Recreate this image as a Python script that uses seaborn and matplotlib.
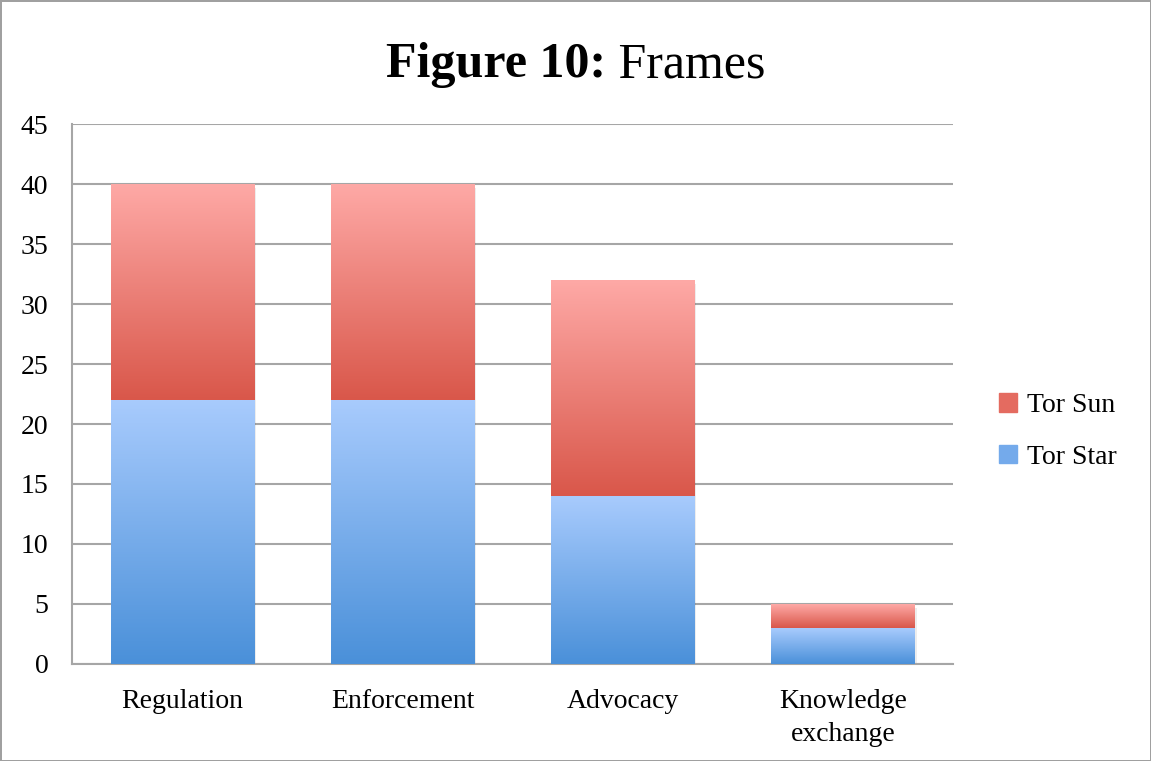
import matplotlib
matplotlib.use("Agg")
import matplotlib.pyplot as plt
import matplotlib.patches as mpatches
from matplotlib.colors import LinearSegmentedColormap
import seaborn as sns
import pandas as pd
import numpy as np

categories = ["Regulation", "Enforcement", "Advocacy", "Knowledge\nexchange"]
tor_star = [22, 22, 14, 3]
tor_sun = [18, 18, 18, 2]

sns.set_theme(style="white")
plt.rcParams['font.family'] = ['Liberation Serif', 'DejaVu Serif']
plt.rcParams['text.color'] = 'black'

blue_cmap = LinearSegmentedColormap.from_list("blue", ["#4a90d9", "#a8cbfd"])
red_cmap = LinearSegmentedColormap.from_list("red", ["#d9574a", "#fea9a6"])

df = pd.DataFrame({"frame": categories, "star": tor_star,
                   "total": np.array(tor_star) + np.array(tor_sun)})

fig = plt.figure(figsize=(11.51, 7.61), dpi=100)
fig.patch.set_edgecolor("#a0a0a0")
fig.patch.set_linewidth(2)
ax = fig.add_axes([0.0626, 0.1275, 0.7654, 0.7095])

sns.barplot(data=df, x="frame", y="total", color="#e8746b", width=0.65,
            ax=ax, zorder=2, linewidth=0)
sns.barplot(data=df, x="frame", y="star", color="#73aaea", width=0.65,
            ax=ax, zorder=3, linewidth=0)

# gradient fill clipped to each bar segment
grad = np.linspace(0, 1, 256).reshape(-1, 1)
n = len(categories)
for i, patch in enumerate(ax.patches[:2 * n]):
    x0, y0 = patch.get_x(), patch.get_y()
    w, h = patch.get_width(), patch.get_height()
    patch.set_visible(False)
    if i < n:
        # total bar -> upper Tor Sun part only
        lo, hi, cmap, z = tor_star[i], h, red_cmap, 2
        # soft shadow
        ax.add_patch(mpatches.Rectangle((x0 + 0.01, -0.3), w, h, facecolor="#000000",
                                        alpha=0.07, edgecolor="none", zorder=1))
    else:
        lo, hi, cmap, z = y0, y0 + h, blue_cmap, 3
    rect = mpatches.Rectangle((x0, lo), w, hi - lo, transform=ax.transData,
                              facecolor="none", edgecolor="none")
    ax.add_patch(rect)
    im = ax.imshow(grad, extent=(x0, x0 + w, lo, hi), origin="lower",
                   cmap=cmap, aspect="auto", zorder=z)
    im.set_clip_path(rect)

ax.set_xlim(-0.5, n - 0.5)
ax.set_ylim(0, 45)
ax.set_yticks(range(0, 46, 5))
ax.yaxis.grid(True, color="#a6a6a6", linewidth=1.5, zorder=0)
ax.set_axisbelow(True)
for s in ["top", "right"]:
    ax.spines[s].set_visible(False)
for s in ["left", "bottom"]:
    ax.spines[s].set_color("#a6a6a6")
    ax.spines[s].set_linewidth(1.5)
ax.set_xlabel("")
ax.set_ylabel("")
ax.tick_params(axis="y", labelsize=20, length=0, pad=17, labelcolor="black")
ax.tick_params(axis="x", labelsize=20, length=0, pad=18, labelcolor="black")
for lbl in ax.get_xticklabels():
    lbl.set_linespacing(1.4)

# title: bold "Figure 10:" + regular "Frames", centred together
ty = 0.914
t1 = fig.text(0, ty, "Figure 10:", fontsize=36, fontweight="bold", ha="left", va="center")
t2 = fig.text(0, ty, " Frames", fontsize=36, ha="left", va="center")
fig.canvas.draw()
r = fig.canvas.get_renderer()
w1 = t1.get_window_extent(r).width / fig.bbox.width
w2 = t2.get_window_extent(r).width / fig.bbox.width
start = 0.5 - (w1 + w2) / 2
t1.set_x(start)
t2.set_x(start + w1)

handles = [mpatches.Patch(color="#e46b60", label="Tor Sun"),
           mpatches.Patch(color="#74aaeb", label="Tor Star")]
fig.legend(handles=handles, loc="center left", bbox_to_anchor=(0.846, 0.433),
           frameon=False, fontsize=20, handlelength=0.65, handleheight=0.65,
           labelspacing=0.95, handletextpad=0.35)

fig.savefig("out.png", dpi=100)
